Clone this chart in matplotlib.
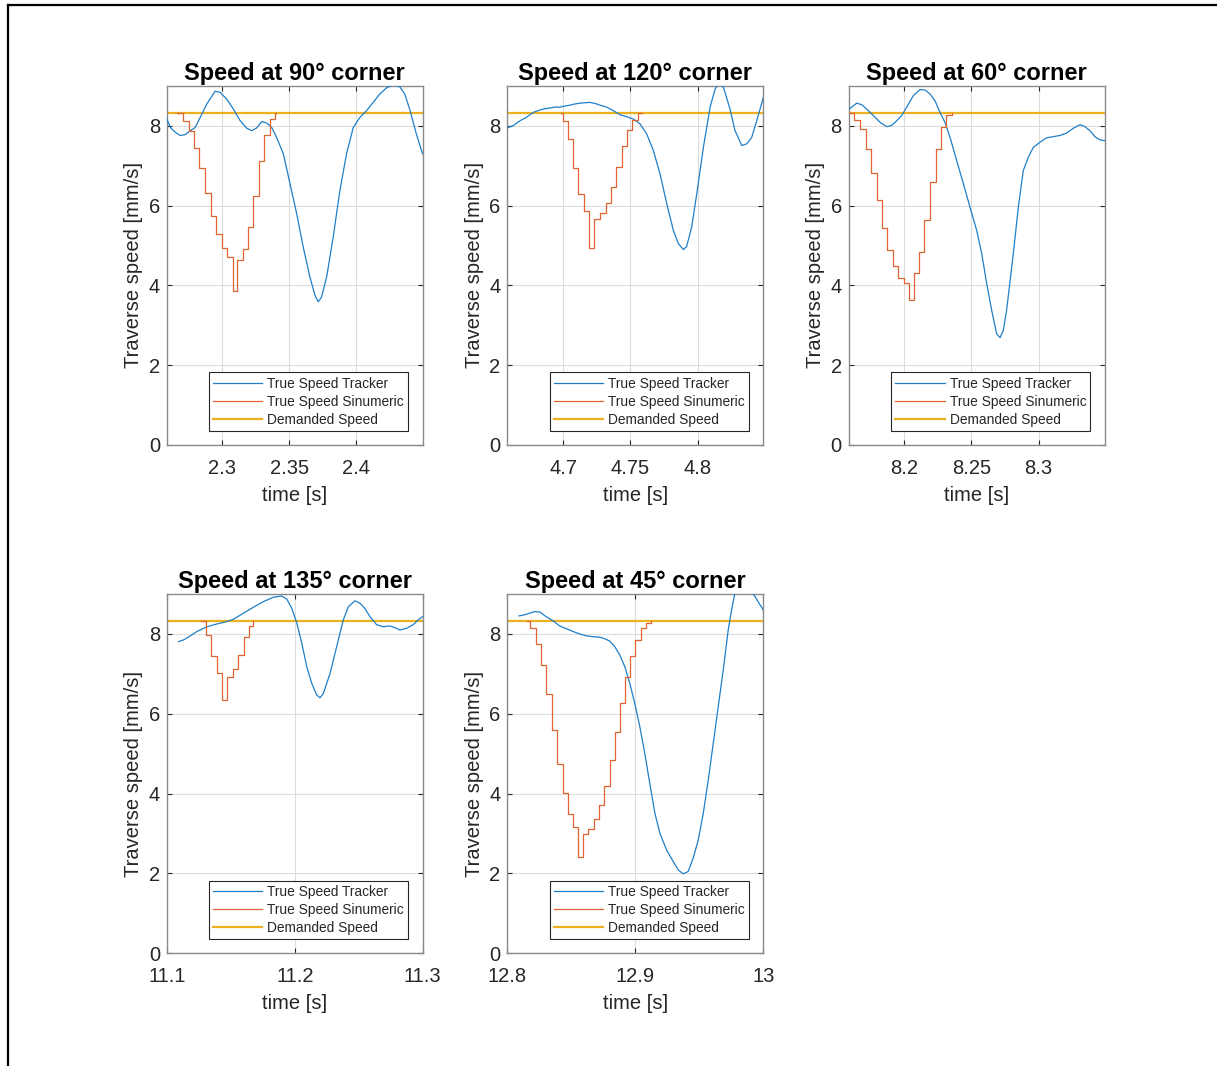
import numpy as np
import matplotlib
matplotlib.use("Agg")
import matplotlib.pyplot as plt
from matplotlib.lines import Line2D

plt.rcParams["font.family"] = ["Liberation Sans", "DejaVu Sans"]

# Demanded traverse speed (500 mm/min) in mm/s
DEMANDED = 8.33

# ---------------- 90 degree corner ----------------
t_trk_90 = [2.2585, 2.2610, 2.2647, 2.2684, 2.2721, 2.2759, 2.2796, 2.2833, 2.2883, 2.2945,
            2.2983, 2.3032, 2.3082, 2.3132, 2.3182, 2.3219, 2.3256, 2.3294, 2.3331, 2.3368,
            2.3405, 2.3455, 2.3505, 2.3555, 2.3604, 2.3654, 2.3692, 2.3716, 2.3741, 2.3779,
            2.3828, 2.3878, 2.3928, 2.3978, 2.4027, 2.4077, 2.4127, 2.4177, 2.4226, 2.4276,
            2.4326, 2.4363, 2.4400, 2.4450, 2.4496]
v_trk_90 = [8.17, 7.96, 7.84, 7.76, 7.78, 7.88, 7.96, 8.21, 8.55, 8.87,
            8.84, 8.67, 8.42, 8.13, 7.94, 7.88, 7.95, 8.11, 8.07, 7.96,
            7.71, 7.30, 6.55, 5.80, 4.96, 4.21, 3.75, 3.59, 3.71, 4.21,
            5.21, 6.38, 7.30, 7.96, 8.21, 8.38, 8.59, 8.80, 8.95, 9.03,
            8.98, 8.80, 8.42, 7.80, 7.30]
t_sin_90 = [2.2659, 2.2704, 2.2746, 2.2789, 2.2828, 2.2871, 2.2913, 2.2953, 2.2995, 2.3037,
            2.3077, 2.3112, 2.3152, 2.3194, 2.3231, 2.3276, 2.3311, 2.3356, 2.3393, 2.3400]
v_sin_90 = [8.33, 8.13, 7.86, 7.44, 6.94, 6.31, 5.74, 5.28, 4.95, 4.71,
            3.86, 4.65, 4.92, 5.46, 6.24, 7.11, 7.77, 8.17, 8.33, 8.33]

# ---------------- 120 degree corner ----------------
t_trk_120 = [4.6587, 4.6631, 4.6681, 4.6730, 4.6780, 4.6829, 4.6866, 4.6903, 4.6940, 4.6978,
             4.7015, 4.7052, 4.7089, 4.7126, 4.7163, 4.7200, 4.7240, 4.7275, 4.7324, 4.7374,
             4.7423, 4.7473, 4.7522, 4.7572, 4.7621, 4.7671, 4.7720, 4.7770, 4.7819, 4.7856,
             4.7894, 4.7918, 4.7955, 4.7993, 4.8042, 4.8092, 4.8129, 4.8153, 4.8191, 4.8240,
             4.8277, 4.8327, 4.8364, 4.8401, 4.8438, 4.8488]
v_trk_120 = [7.95, 8.01, 8.13, 8.22, 8.34, 8.40, 8.43, 8.45, 8.47, 8.47,
             8.50, 8.52, 8.55, 8.57, 8.58, 8.59, 8.56, 8.52, 8.47, 8.38,
             8.28, 8.23, 8.17, 8.05, 7.80, 7.38, 6.80, 6.05, 5.38, 5.05,
             4.90, 4.98, 5.46, 6.30, 7.46, 8.47, 8.92, 9.05, 8.97, 8.42,
             7.88, 7.51, 7.55, 7.71, 8.13, 8.72]
t_sin_120 = [4.6985, 4.7002, 4.7035, 4.7077, 4.7114, 4.7156, 4.7193, 4.7230, 4.7275, 4.7317,
             4.7356, 4.7394, 4.7436, 4.7473, 4.7515, 4.7554, 4.7584]
v_sin_120 = [8.33, 8.12, 7.66, 6.95, 6.28, 5.86, 4.94, 5.67, 5.81, 6.07,
             6.46, 6.98, 7.49, 7.90, 8.15, 8.33, 8.33]

# ---------------- 60 degree corner ----------------
t_trk_60 = [8.1589, 8.1611, 8.1649, 8.1686, 8.1723, 8.1772, 8.1822, 8.1871, 8.1908, 8.1946,
            8.1983, 8.2020, 8.2069, 8.2119, 8.2156, 8.2193, 8.2230, 8.2267, 8.2304, 8.2342,
            8.2391, 8.2441, 8.2490, 8.2540, 8.2577, 8.2614, 8.2651, 8.2688, 8.2713, 8.2738,
            8.2762, 8.2812, 8.2849, 8.2886, 8.2923, 8.2960, 8.3010, 8.3059, 8.3109, 8.3158,
            8.3208, 8.3257, 8.3307, 8.3344, 8.3381, 8.3418, 8.3455, 8.3493]
v_trk_60 = [8.42, 8.47, 8.57, 8.53, 8.42, 8.26, 8.09, 7.98, 8.01, 8.13,
            8.26, 8.47, 8.76, 8.91, 8.90, 8.80, 8.63, 8.34, 8.09, 7.71,
            7.13, 6.55, 5.96, 5.38, 4.80, 4.05, 3.38, 2.79, 2.69, 2.88,
            3.38, 4.80, 5.96, 6.88, 7.21, 7.46, 7.59, 7.70, 7.73, 7.76,
            7.82, 7.94, 8.03, 7.98, 7.88, 7.73, 7.65, 7.63]
t_sin_60 = [8.1589, 8.1629, 8.1673, 8.1715, 8.1752, 8.1797, 8.1834, 8.1876, 8.1916, 8.1958,
            8.2000, 8.2037, 8.2074, 8.2114, 8.2151, 8.2193, 8.2235, 8.2272, 8.2309, 8.2354]
v_sin_60 = [8.33, 8.15, 7.91, 7.41, 6.83, 6.13, 5.45, 4.90, 4.48, 4.19,
            4.05, 3.63, 4.32, 4.84, 5.63, 6.59, 7.42, 7.96, 8.27, 8.33]

# ---------------- 135 degree corner ----------------
t_trk_135 = [11.1091, 11.1130, 11.1182, 11.1234, 11.1313, 11.1391, 11.1469, 11.1521, 11.1599,
             11.1677, 11.1755, 11.1833, 11.1898, 11.1938, 11.1977, 11.2016, 11.2055, 11.2094,
             11.2133, 11.2172, 11.2198, 11.2224, 11.2276, 11.2328, 11.2380, 11.2419, 11.2471,
             11.2510, 11.2549, 11.2589, 11.2641, 11.2693, 11.2745, 11.2797, 11.2823, 11.2875,
             11.2927, 11.2966, 11.3000]
v_trk_135 = [7.81, 7.85, 7.95, 8.06, 8.18, 8.25, 8.31, 8.37, 8.52,
             8.67, 8.81, 8.92, 8.95, 8.87, 8.64, 8.27, 7.77, 7.18,
             6.76, 6.47, 6.40, 6.51, 7.01, 7.68, 8.35, 8.68, 8.83,
             8.77, 8.64, 8.43, 8.23, 8.18, 8.20, 8.14, 8.10, 8.14,
             8.23, 8.35, 8.43]
t_sin_135 = [11.1268, 11.1305, 11.1346, 11.1391, 11.1432, 11.1469, 11.1516, 11.1557, 11.1599,
             11.1641, 11.1677]
v_sin_135 = [8.33, 7.97, 7.45, 7.01, 6.35, 6.91, 7.11, 7.47, 7.92,
             8.20, 8.33]

# ---------------- 45 degree corner ----------------
t_trk_45 = [12.8091, 12.8136, 12.8175, 12.8214, 12.8253, 12.8305, 12.8357, 12.8409, 12.8462,
            12.8514, 12.8566, 12.8618, 12.8670, 12.8722, 12.8761, 12.8801, 12.8840, 12.8879,
            12.8918, 12.8957, 12.8996, 12.9035, 12.9074, 12.9113, 12.9153, 12.9192, 12.9244,
            12.9296, 12.9335, 12.9374, 12.9413, 12.9452, 12.9492, 12.9531, 12.9570, 12.9609,
            12.9648, 12.9687, 12.9726, 12.9752, 12.9778, 12.9909, 12.9935, 12.9974, 13.0000]
v_trk_45 = [8.45, 8.48, 8.52, 8.56, 8.55, 8.43, 8.33, 8.20, 8.13,
            8.06, 8.00, 7.95, 7.93, 7.92, 7.88, 7.82, 7.68, 7.47,
            7.18, 6.76, 6.26, 5.68, 5.01, 4.26, 3.51, 3.01, 2.59,
            2.30, 2.09, 1.99, 2.05, 2.38, 2.84, 3.51, 4.34, 5.26,
            6.18, 7.10, 8.10, 8.60, 9.02, 9.06, 8.94, 8.73, 8.60]
t_sin_45 = [12.8154, 12.8180, 12.8222, 12.8266, 12.8305, 12.8352, 12.8391, 12.8435, 12.8475,
            12.8514, 12.8553, 12.8592, 12.8631, 12.8675, 12.8717, 12.8756, 12.8801, 12.8840,
            12.8879, 12.8918, 12.8962, 12.9001, 12.9043, 12.9082, 12.9119]
v_sin_45 = [8.33, 8.14, 7.76, 7.22, 6.49, 5.59, 4.74, 4.02, 3.49,
            3.16, 2.40, 2.99, 3.12, 3.36, 3.72, 4.19, 4.83, 5.55,
            6.28, 6.93, 7.45, 7.85, 8.14, 8.28, 8.33]

# Panel titles, time windows and time ticks
titles = ["Speed at 90° corner", "Speed at 120° corner", "Speed at 60° corner",
          "Speed at 135° corner", "Speed at 45° corner"]
xlims = [(2.2585, 2.4496), (4.6586, 4.8487), (8.1589, 8.3493), (11.1, 11.3), (12.8, 13.0)]
xticks = [[2.3, 2.35, 2.4], [4.7, 4.75, 4.8], [8.2, 8.25, 8.3], [11.1, 11.2, 11.3], [12.8, 12.9, 13.0]]
xticklabels = [["2.3", "2.35", "2.4"], ["4.7", "4.75", "4.8"], ["8.2", "8.25", "8.3"],
               ["11.1", "11.2", "11.3"], ["12.8", "12.9", "13"]]
yticks = [0, 2, 4, 6, 8]

tracker = [(t_trk_90, v_trk_90), (t_trk_120, v_trk_120), (t_trk_60, v_trk_60),
           (t_trk_135, v_trk_135), (t_trk_45, v_trk_45)]
sinumeric = [(t_sin_90, v_sin_90), (t_sin_120, v_sin_120), (t_sin_60, v_sin_60),
             (t_sin_135, v_sin_135), (t_sin_45, v_sin_45)]

C_TRK = "#1f7fc8"
C_SIN = "#e0642f"
C_DEM = "#EDB120"
C_TXT = "#262626"
C_BOX = "#8a8a8a"

W, H = 1217, 1066
fig = plt.figure(figsize=(W / 100, H / 100), dpi=100)

# axes rectangles in pixels: (left, top, right, bottom)
rects = [(167, 86, 422.5, 445), (507.3, 86, 763.3, 445), (848.7, 86, 1105, 445),
         (167, 594, 422.5, 953.3), (507.3, 594, 763.3, 953.3)]

for i in range(5):
    l, t, r, b = rects[i]
    ax = fig.add_axes([l / W, 1 - b / H, (r - l) / W, (b - t) / H])
    tt, vt = tracker[i]
    ts, vs = sinumeric[i]
    ax.plot(tt, vt, color=C_TRK, lw=0.9, label="True Speed Tracker", zorder=3)
    ax.step(ts, vs, where="post", color=C_SIN, lw=0.9, label="True Speed Sinumeric", zorder=3)
    ax.axhline(DEMANDED, color=C_DEM, lw=1.6, label="Demanded Speed", zorder=2)

    ax.set_xlim(*xlims[i])
    ax.set_ylim(0, 9)
    ax.set_xticks(xticks[i])
    ax.set_xticklabels(xticklabels[i])
    ax.set_yticks(yticks)
    ax.grid(True, color="#dcdcdc", lw=0.8, zorder=0)
    ax.set_axisbelow(True)
    ax.tick_params(direction="in", length=3.5, width=0.8, color=C_TXT, labelsize=14.5,
                   labelcolor=C_TXT, top=True, right=True)
    ax.tick_params(axis="x", pad=10)
    ax.tick_params(axis="y", pad=5)
    for s in ax.spines.values():
        s.set_color(C_BOX)
        s.set_linewidth(1.0)

    ax.set_title(titles[i], fontsize=17, fontweight="bold", color="black", pad=4)
    ax.set_xlabel("time [s]", fontsize=14.5, color=C_TXT, labelpad=5.5)
    ax.set_ylabel("Traverse speed [mm/s]", fontsize=14.5, color=C_TXT, labelpad=4)

    leg = ax.legend(loc="lower right", bbox_to_anchor=(0.943, 0.039), borderaxespad=0,
                    fontsize=9.9, frameon=True, fancybox=False, framealpha=1,
                    edgecolor=C_TXT, handlelength=3.6, handletextpad=0.35,
                    labelspacing=0.3, borderpad=0.3)
    leg.get_frame().set_linewidth(0.8)
    for txt in leg.get_texts():
        txt.set_color(C_TXT)

# page frame lines along the top and left edges
fig.add_artist(Line2D([8 / W, 1], [1 - 5 / H, 1 - 5 / H], transform=fig.transFigure,
                      color="black", lw=1.6))
fig.add_artist(Line2D([8 / W, 8 / W], [0, 1 - 5 / H], transform=fig.transFigure,
                      color="black", lw=1.6))

fig.savefig("out.png", dpi=100)
